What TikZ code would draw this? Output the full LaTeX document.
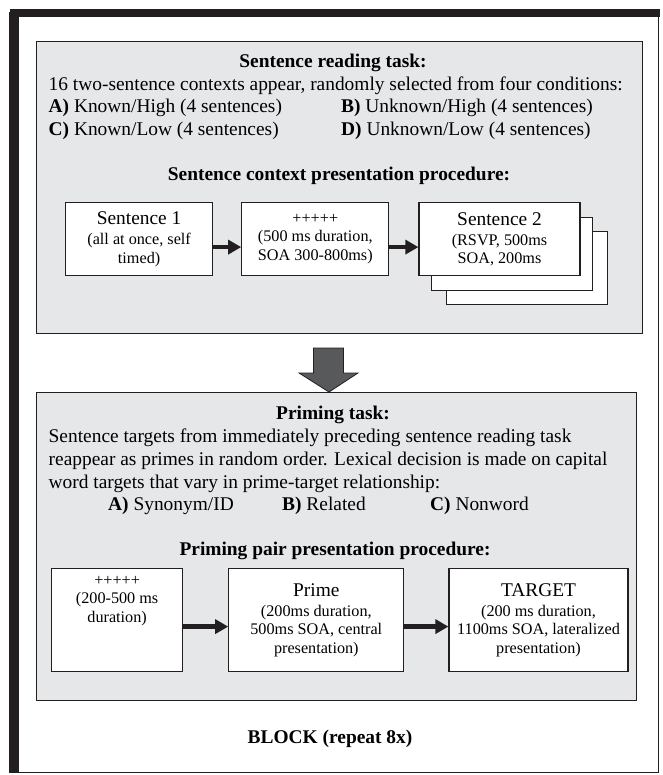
\documentclass[tikz,border=0pt]{standalone}
\usepackage{fontspec}
\setmainfont{Liberation Serif}
\usepackage{tikz}
\usetikzlibrary{arrows.meta,calc,positioning}
\definecolor{framedark}{HTML}{231F20}
\definecolor{taskgray}{HTML}{E6E7E8}
\definecolor{arrowgray}{HTML}{58595B}
\newcommand{\bigtext}{\fontsize{19.4}{22.5}\selectfont}
\newcommand{\smalltext}{\fontsize{16.2}{18.5}\selectfont}
\tikzset{
  taskbox/.style={draw=framedark,line width=1.3pt,fill=taskgray},
  procbox/.style={draw=framedark,line width=1.2pt,fill=white,align=center,inner sep=2pt,font=\smalltext},
  linetext/.style={anchor=base west,inner sep=0pt,font=\bigtext},
  headtext/.style={anchor=base,inner sep=0pt,font=\bigtext\bfseries},
  flowarrow/.style={-{Triangle[length=13pt,width=14pt]},line width=4.5pt,framedark,shorten <=-0.6pt}
}

\begin{document}
\begin{tikzpicture}[x=1pt,y=-1pt,node distance=28pt and 28pt]
  \useasboundingbox (0,0) rectangle (662,775);
  % outer block frame
  \draw[framedark,line width=1.6pt] (10,13) rectangle (658.5,772.5);
  \fill[framedark] (9.5,9) rectangle (19,773.3);
  \fill[framedark] (9.5,9) rectangle (660,17.5);

  % sentence reading task
  \node[taskbox,anchor=north west,minimum width=606pt,minimum height=292pt] (task1) at (36,41) {};
  \node[headtext] (head1) at (333,68) {Sentence reading task:};
  \node[linetext] (desc1) at (48.5,91) {16 two-sentence contexts appear, randomly selected from four conditions:};
  \node[linetext] (condA) at (48.5,113) {\textbf{A)} Known/High (4 sentences)};
  \node[linetext] (condB) at (341,113) {\textbf{B)} Unknown/High (4 sentences)};
  \node[linetext] (condC) at (48.5,136) {\textbf{C)} Known/Low (4 sentences)};
  \node[linetext] (condD) at (341,136) {\textbf{D)} Unknown/Low (4 sentences)};
  \node[headtext] (proc1) at (339,181) {Sentence context presentation procedure:};

  \node[procbox,anchor=north west,minimum width=147pt,minimum height=73pt] (sent1) at (65,202)
    {{\bigtext Sentence 1}\\[1.5pt](all at once, self\\timed)};
  \node[procbox,minimum width=147pt,minimum height=73pt,right=of sent1] (fix1)
    {+++++\\(500 ms duration,\\SOA 300-800ms)};
  \node[procbox,anchor=north west,minimum width=161pt,minimum height=73pt] (sent2c) at (446,231) {};
  \node[procbox,anchor=north west,minimum width=161pt,minimum height=73pt] (sent2b) at (431,217) {};
  \node[procbox,minimum width=161pt,minimum height=73pt,right=29pt of fix1] (sent2)
    {{\bigtext Sentence 2}\\[1.5pt](RSVP, 500ms\\SOA, 200ms};
  \draw[flowarrow] ([yshift=-8pt]sent1.east) -- ([yshift=-8pt]fix1.west);
  \draw[flowarrow] ([yshift=-8pt]fix1.east) -- ([yshift=-8pt]sent2.west);

  % priming task
  \node[taskbox,anchor=north west,minimum width=600pt,minimum height=308pt] (task2) at (36,392) {};
  \coordinate (tip) at (329,392);
  \fill[arrowgray,draw=framedark,line width=0.8pt]
    (tip) -- ++(-30,-19) -- ++(14.5,0) -- ++(0,-25) -- ++(30,0) -- ++(0,25) -- ++(14.5,0) -- cycle;
  \node[headtext] (head2) at (333,419) {Priming task:};
  \node[linetext] (desc2a) at (48.5,442) {Sentence targets from immediately preceding sentence reading task};
  \node[linetext] (desc2b) at (48.5,465) {reappear as primes in random order. Lexical decision is made on capital};
  \node[linetext] (desc2c) at (48.5,488) {word targets that vary in prime-target relationship:};
  \node[linetext] (relA) at (108,510) {\textbf{A)} Synonym/ID};
  \node[linetext] (relB) at (282,510) {\textbf{B)} Related};
  \node[linetext] (relC) at (430,510) {\textbf{C)} Nonword};
  \node[headtext] (proc2) at (335,555) {Priming pair presentation procedure:};

  \node[procbox,anchor=north west,minimum width=131pt,minimum height=103pt] (fix2) at (51,568) {};
  \node[align=center,inner sep=0pt,font=\smalltext,below=8pt of fix2.north] (fix2txt)
    {+++++\\(200-500 ms\\duration)};
  \node[procbox,minimum width=175pt,minimum height=103pt,right=45pt of fix2] (prime)
    {{\bigtext Prime}\\[1.5pt](200ms duration,\\500ms SOA, central\\presentation)};
  \node[procbox,minimum width=179pt,minimum height=103pt,right=44pt of prime] (target)
    {{\bigtext TARGET}\\[1.5pt](200 ms duration,\\1100ms SOA, lateralized\\presentation)};
  \draw[flowarrow] ([yshift=-6.5pt]fix2.east) -- ([yshift=-6.5pt]prime.west);
  \draw[flowarrow] ([yshift=-6.5pt]prime.east) -- ([yshift=-6.5pt]target.west);

  \node[headtext] (block) at (330,743) {BLOCK (repeat 8x)};
\end{tikzpicture}
\end{document}
